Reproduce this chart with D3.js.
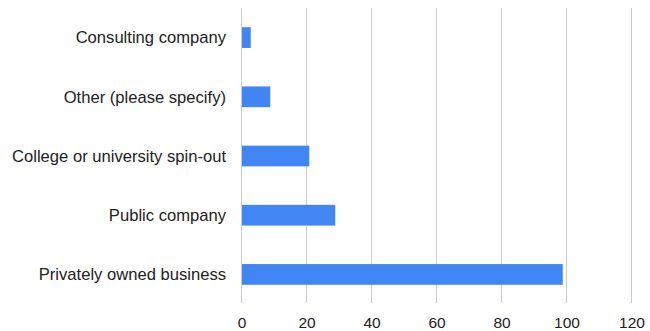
<!DOCTYPE html>
<html><head><meta charset="utf-8">
<script src="https://cdn.jsdelivr.net/npm/d3@7"></script>
<style>body{margin:0;background:#fff}</style>
</head><body>
<svg id="c" width="650" height="331"></svg>
<script>
const categories = ["Consulting company","Other (please specify)","College or university spin-out","Public company","Privately owned business"];
const values = [3, 9, 21, 29, 99];
const xTicks = [0, 20, 40, 60, 80, 100, 120];

const svg = d3.select("#c");
const x = d3.scaleLinear().domain([0,120]).range([241,631]);
const y = d3.scaleBand().domain(categories).range([8,304]).paddingInner(0.65).paddingOuter(0.325);
const font = "'Liberation Sans', Arial, sans-serif";

svg.append("g").selectAll("line").data(xTicks).join("line")
  .attr("x1", d=>x(d)+0.5).attr("x2", d=>x(d)+0.5)
  .attr("y1", 8).attr("y2", 303)
  .attr("stroke", "#cccccc").attr("stroke-width", 1);

svg.append("g").selectAll("rect").data(values).join("rect")
  .attr("x", x(0)+1).attr("y", (d,i)=>y(categories[i]))
  .attr("width", d=>x(d)-x(0)-1).attr("height", y.bandwidth())
  .attr("fill", "#4285f4");

svg.append("g").selectAll("text").data(categories).join("text")
  .attr("x", 226).attr("y", d=>y(d)+y.bandwidth()/2)
  .attr("dy", "0.35em").attr("text-anchor", "end")
  .attr("font-family", font).attr("font-size", 16.6).attr("fill", "#222")
  .text(d=>d);

svg.append("g").selectAll("text").data(xTicks).join("text")
  .attr("x", d=>x(d)+1).attr("y", 328)
  .attr("text-anchor", "middle")
  .attr("font-family", font).attr("font-size", 15.5).attr("fill", "#222")
  .text(d=>d);
</script>
</body></html>
